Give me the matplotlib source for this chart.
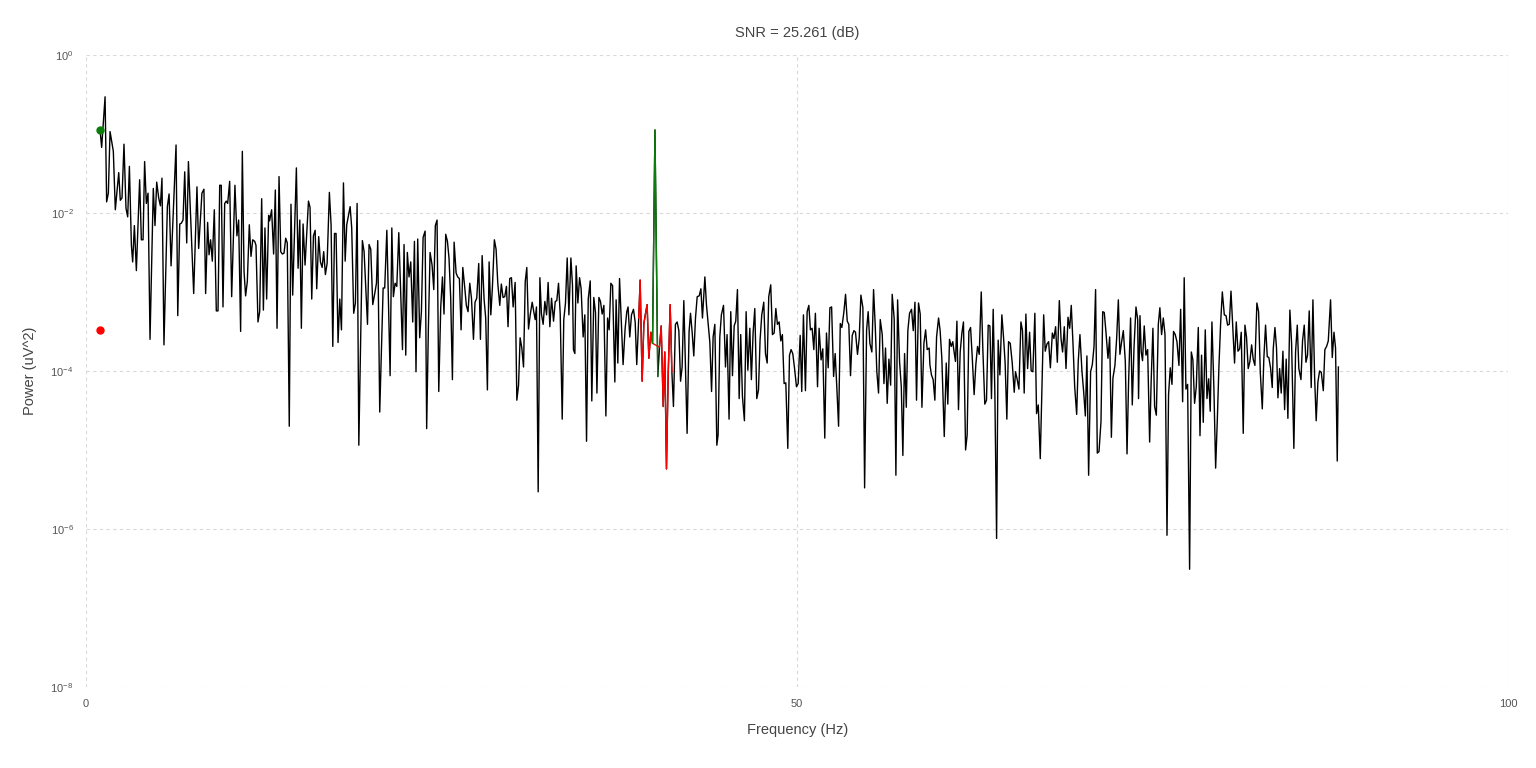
import numpy as np
import matplotlib
matplotlib.use("Agg")
import matplotlib.pyplot as plt
from matplotlib.ticker import FixedLocator

plt.rcParams['font.family'] = ['Liberation Sans', 'DejaVu Sans']
plt.rcParams['mathtext.default'] = 'regular'

# spectrum vertices (Hz, dB re 1 uV^2)
freq_hz = [
    0.98, 1.10, 1.34, 1.45, 1.57, 1.69, 1.92, 2.06, 2.30, 2.41, 2.53, 2.67, 2.81, 2.93, 3.05, 3.19, 3.28, 3.40, 3.54, 3.77, 3.89, 4.01, 4.12, 4.24, 4.36, 4.50, 4.73, 4.85, 4.97, 5.11, 5.23, 5.34, 5.48, 5.72, 5.84, 5.98, 6.33, 6.45, 6.59, 6.70, 6.82, 6.94, 7.08, 7.20, 7.57,
    7.80, 7.92, 8.15, 8.29, 8.41, 8.55, 8.65, 8.76, 8.88, 9.02, 9.16, 9.28, 9.40, 9.51, 9.63, 9.75, 9.86, 9.96, 10.10, 10.24, 10.47, 10.61, 10.73, 10.87, 10.99, 11.11, 11.22, 11.34, 11.48, 11.60, 11.72, 11.86, 11.95, 12.09, 12.21, 12.35, 12.47, 12.58, 12.70, 12.84, 12.91, 13.05, 13.19, 13.31, 13.43, 13.57, 13.69, 13.80, 13.92, 14.04, 14.15, 14.29, 14.41, 14.53, 14.79,
    14.91, 15.03, 15.14, 15.26, 15.40, 15.64, 15.75, 15.87, 15.99, 16.11, 16.22, 16.36, 16.48, 16.60, 16.71, 16.83, 16.95, 17.11, 17.23, 17.35, 17.47, 17.58, 17.72, 17.84, 17.96, 18.10, 18.22, 18.33, 18.57, 18.68, 18.82, 18.94, 19.06, 19.18, 19.43, 19.55, 19.79, 19.90, 20.02, 20.16, 20.30, 20.42, 20.51, 20.65, 20.89, 21.00, 21.15, 21.38, 21.50, 21.61, 21.73, 21.85, 21.99, 22.25, 22.36,
    22.48, 22.59, 22.71, 22.83, 22.97, 23.09, 23.20, 23.32, 23.46, 23.58, 23.70, 23.84, 23.95, 24.07, 24.19, 24.33, 24.45, 24.56, 24.68, 24.80, 24.94, 25.06, 25.17, 25.29, 25.41, 25.52, 25.64, 25.76, 25.88, 26.02, 26.13, 26.25, 26.37, 26.49, 26.63, 26.74, 26.86, 26.98, 27.10, 27.24, 27.35, 27.47, 27.61, 27.73, 27.85, 27.99, 28.10, 28.22, 28.34, 28.46, 28.57, 28.71, 28.83, 28.95, 29.09, 29.20, 29.32, 29.44, 29.56, 29.67, 29.79,
    29.91, 30.03, 30.17, 30.29, 30.41, 30.52, 30.64, 30.76, 30.88, 30.99, 31.11, 31.23, 31.37, 31.48, 31.58, 31.67, 31.79, 31.91, 32.02, 32.14, 32.26, 32.38, 32.49, 32.61, 32.73, 32.87, 32.99, 33.10, 33.22, 33.34, 33.48, 33.59, 33.71, 33.83, 33.95, 34.09, 34.20, 34.27, 34.37, 34.46, 34.58, 34.70, 34.81, 34.95, 35.07, 35.19, 35.31, 35.45, 35.56, 35.70, 35.82, 35.92, 36.06, 36.17, 36.29, 36.41, 36.55, 36.67, 36.78, 36.90, 37.02, 37.18,
    37.27, 37.39, 37.51, 37.76, 37.90, 38.02, 38.11, 38.23, 38.35, 38.49, 38.61, 38.72,
    38.86, 38.96, 39.10, 39.22, 39.33, 39.45, 39.57, 39.71, 39.83,
    40.00, 40.20,
    40.32, 40.44, 40.58, 40.69, 40.81, 40.93, 41.07, 41.19,
    41.30, 41.44, 41.56, 41.68, 41.80, 41.91, 42.03, 42.15, 42.26, 42.40, 42.50, 42.62, 42.73, 42.85, 42.97, 43.11, 43.23, 43.34, 43.51, 43.62, 43.86, 43.98, 44.09, 44.21, 44.35, 44.44,
    44.56, 44.67, 44.82, 44.96, 45.07, 45.21, 45.33, 45.45, 45.57, 45.68, 45.80, 45.92, 46.03, 46.15, 46.29, 46.41, 46.53, 46.67, 46.78, 46.90, 47.02, 47.16, 47.28, 47.39, 47.51, 47.65, 47.77, 47.89, 48.00, 48.14, 48.26, 48.38, 48.50, 48.61, 48.73, 48.85, 48.96, 49.08, 49.20, 49.34, 49.46, 49.57, 49.69, 49.81, 49.95, 50.07, 50.21, 50.32, 50.44, 50.58, 50.70, 50.82, 50.93, 51.05, 51.17, 51.28, 51.43, 51.54, 51.68, 51.80, 51.94,
    52.06, 52.18, 52.30, 52.42, 52.56, 52.67, 52.79, 52.91, 53.03, 53.14, 53.28, 53.40, 53.52, 53.63, 53.75, 53.87, 53.99, 54.10, 54.24, 54.36, 54.48, 54.62, 54.74, 54.88, 54.99, 55.11, 55.25, 55.37, 55.49, 55.60, 55.72, 55.84, 55.98, 56.10, 56.21, 56.33, 56.45, 56.57, 56.68, 56.82, 56.94, 57.06, 57.20, 57.32, 57.43, 57.55, 57.67, 57.78, 57.90, 58.04, 58.16, 58.28, 58.39, 58.53, 58.65, 58.77, 58.91, 59.03, 59.14, 59.28,
    59.33, 59.44, 59.56, 59.68, 59.80, 59.94, 60.05, 60.17, 60.34, 60.48, 60.59, 60.71, 60.83, 60.94, 61.01, 61.13, 61.23, 61.34, 61.46, 61.58, 61.69, 61.84, 61.95, 62.07, 62.19, 62.30, 62.44, 62.56, 62.68, 62.80, 62.94, 63.05, 63.19, 63.31, 63.43, 63.55, 63.66, 63.78, 63.90, 64.02, 64.13, 64.25, 64.39, 64.51, 64.62, 64.74, 64.86, 64.98, 65.12, 65.26, 65.35, 65.47, 65.59, 65.73, 65.84, 65.96, 66.08, 66.20, 66.34, 66.45, 66.57, 66.71,
    66.83, 66.95, 67.09, 67.21, 67.33, 67.44, 67.56, 67.68, 67.80, 67.94, 68.05, 68.17, 68.29, 68.43, 68.55, 68.66, 68.78, 68.90, 69.04, 69.16, 69.27, 69.39, 69.51, 69.65, 69.76, 69.88, 70.02, 70.14, 70.26, 70.37, 70.49, 70.63, 70.75, 70.87, 70.98, 71.10, 71.22, 71.36, 71.48, 71.59, 71.71, 71.85, 71.97, 72.09, 72.20, 72.34, 72.46, 72.58, 72.69, 72.81, 72.93, 73.07, 73.19, 73.30, 73.44, 73.56, 73.68, 73.82, 73.94, 74.00,
    74.10, 74.19, 74.28, 74.40, 74.52, 74.64, 74.78, 74.89, 75.01, 75.13, 75.25, 75.39, 75.50, 75.62, 75.74, 75.86, 76.00, 76.11, 76.23, 76.35, 76.46, 76.58, 76.70, 76.84, 76.96, 77.10, 77.21, 77.33, 77.45, 77.59, 77.71, 77.82, 77.94, 78.06, 78.20, 78.32, 78.43, 78.55, 78.69, 78.81, 78.93, 79.04, 79.16, 79.30, 79.42, 79.54, 79.65, 79.77, 79.89, 80.03, 80.15, 80.26, 80.38, 80.50, 80.64, 80.75, 80.87, 80.99, 81.11, 81.22, 81.36, 81.48,
    81.59, 81.71, 81.83, 81.95, 82.06, 82.18, 82.32, 82.44, 82.56, 82.70, 82.81, 82.93, 83.05, 83.16, 83.28, 83.40, 83.47, 83.59, 83.70, 83.80, 83.92, 84.03, 84.15, 84.27, 84.38, 84.50, 84.64, 84.76, 84.92, 85.04, 85.16, 85.27, 85.42, 85.53, 85.65, 85.77, 85.88, 86.00, 86.14, 86.26, 86.38, 86.49, 86.61, 86.73, 86.85, 86.99, 87.10, 87.22, 87.34, 87.50, 87.62, 87.74, 87.85, 87.97, 88.05,
]
power_db = [
    -9.4, -11.7, -5.3, -18.6, -17.5, -9.7, -12.2, -19.6, -14.9, -18.4, -18.1, -11.3, -19.4, -20.5, -14.1, -24.1, -26.2, -21.6, -27.3, -15.8, -23.4, -23.4, -13.5, -18.8, -17.5, -36.0, -16.9, -21.6, -16.1, -18.1, -19.1, -15.6, -36.7, -19.2, -17.6, -26.7, -11.4, -33.0, -21.4, -21.3, -20.9, -14.8, -23.8, -13.5, -30.2,
    -16.7, -24.5, -17.5, -17.0, -30.2, -21.2, -25.3, -23.4, -26.1, -19.6, -32.4, -32.4, -16.5, -16.5, -31.9, -18.8, -18.5, -18.8, -16.0, -30.6, -16.5, -22.9, -20.9, -35.0, -12.2, -27.4, -30.5, -28.7, -21.5, -25.5, -23.4, -23.6, -24.1, -33.8, -32.5, -18.2, -32.3, -21.9, -30.9, -20.3, -21.0, -19.6, -25.2, -17.1, -34.6, -15.4, -24.9, -25.2, -25.1, -23.2, -23.8, -47.0, -18.9, -30.4, -14.3,
    -27.0, -20.9, -34.6, -21.4, -26.6, -18.5, -19.3, -30.9, -22.9, -22.2, -29.6, -23.0, -26.2, -26.9, -24.9, -27.8, -26.4, -17.4, -21.5, -36.9, -22.6, -22.6, -36.4, -30.9, -34.8, -16.2, -26.1, -21.5, -19.2, -21.9, -32.7, -31.4, -18.8, -49.4, -23.5, -24.9, -34.1, -24.0, -24.6, -31.6, -30.2, -28.9, -23.5, -45.2, -29.5, -29.5, -22.2, -40.6, -21.9, -30.6, -28.9, -29.3, -22.5, -37.3, -24.0,
    -38.0, -25.0, -28.1, -26.2, -33.8, -23.6, -40.1, -23.3, -35.8, -32.5, -23.1, -22.3, -47.3, -34.6, -25.0, -26.6, -29.7, -21.6, -20.9, -42.6, -31.9, -28.1, -32.8, -22.7, -23.6, -25.7, -30.8, -41.1, -23.7, -27.6, -28.1, -28.3, -34.8, -26.9, -29.5, -31.7, -32.5, -28.9, -30.8, -36.0, -31.3, -30.8, -26.4, -36.0, -25.4, -31.0, -33.3, -42.4, -26.2, -32.9, -29.5, -23.4, -24.6, -28.9, -31.7, -29.0, -30.7, -30.6, -29.3, -34.4, -28.3,
    -28.2, -31.9, -28.8, -43.7, -41.8, -35.8, -37.1, -39.5, -28.7, -26.9, -34.7, -32.9, -31.3, -32.5, -33.5, -31.9, -55.3, -28.2, -32.8, -34.1, -31.2, -32.9, -28.8, -34.4, -30.8, -33.7, -31.2, -31.1, -28.9, -32.8, -46.1, -33.5, -31.4, -25.7, -32.9, -25.7, -29.1, -37.3, -37.8, -26.7, -31.4, -28.2, -29.6, -35.7, -32.9, -48.9, -30.9, -28.6, -43.8, -30.7, -32.6, -42.8, -30.7, -31.2, -32.8, -31.7, -45.7, -33.3, -34.8, -28.9, -29.2, -41.4,
    -31.0, -39.0, -28.3, -39.2, -34.7, -32.5, -31.9, -35.7, -32.9, -32.2, -33.8, -39.2,
    -33.3, -28.5, -41.3, -34.0, -32.8, -31.6, -38.4, -35.1, -36.5,
    -9.5, -40.7,
    -37.0, -34.3, -44.5, -37.6, -52.4, -40.5, -31.6, -40.1,
    -44.5, -34.1, -33.8, -34.9, -41.3, -39.5, -31.1, -39.9, -47.9, -35.0, -32.7, -35.2, -38.1, -33.3, -30.6, -30.5, -29.6, -33.3, -28.1, -31.6, -36.4, -42.6, -35.7, -34.1, -49.4, -48.1,
    -35.7, -32.9, -31.7, -39.5, -35.4, -46.1, -32.5, -40.6, -34.3, -33.7, -29.7, -43.5, -35.4, -43.2, -46.3, -32.5, -39.9, -34.6, -41.1, -35.2, -32.1, -43.5, -42.4, -36.1, -32.9, -31.3, -37.8, -39.0, -30.6, -29.1, -35.4, -35.2, -32.1, -34.1, -33.8, -36.2, -35.4, -41.6, -41.5, -49.8, -38.0, -37.3, -37.8, -39.6, -42.0, -41.6, -35.5, -42.6, -32.9, -42.5, -32.5, -31.7, -34.8, -34.6, -37.3, -32.7, -42.0, -34.6, -38.6, -37.2, -48.5,
    -35.2, -39.6, -32.0, -31.9, -40.7, -37.8, -42.2, -47.0, -34.0, -34.5, -32.6, -30.3, -33.7, -34.1, -40.6, -35.5, -34.9, -35.1, -37.9, -35.9, -30.4, -32.0, -54.8, -34.8, -32.5, -36.5, -37.6, -29.7, -34.4, -40.1, -42.8, -33.5, -35.4, -41.6, -37.1, -44.1, -38.5, -41.8, -30.3, -33.4, -53.2, -31.0, -38.9, -42.0, -50.7, -37.8, -44.6, -34.9, -32.7, -32.2, -34.9, -31.3, -43.7, -31.4, -32.8, -44.6, -36.5, -34.8, -37.3, -37.1,
    -39.2, -40.5, -41.1, -43.7, -35.7, -33.3, -34.9, -38.4, -48.3, -39.0, -44.2, -36.0, -36.9, -36.3, -37.3, -38.8, -33.7, -44.9, -37.6, -35.2, -33.8, -50.0, -48.1, -35.0, -34.5, -38.0, -43.0, -39.2, -36.9, -37.9, -30.0, -37.1, -44.2, -43.7, -34.2, -34.3, -43.5, -32.2, -43.0, -61.2, -36.1, -40.5, -32.9, -35.8, -39.0, -46.1, -36.3, -36.5, -39.0, -42.7, -40.1, -41.1, -42.3, -33.8, -34.9, -42.8, -32.8, -39.7, -35.1, -40.0, -40.1, -32.7,
    -45.4, -44.3, -51.1, -42.0, -32.9, -37.5, -36.6, -36.3, -39.6, -35.2, -35.9, -34.4, -38.9, -31.1, -35.9, -37.6, -34.4, -39.7, -33.2, -34.6, -31.7, -36.5, -42.0, -45.5, -38.8, -35.4, -40.0, -42.6, -45.7, -38.1, -53.2, -40.1, -39.2, -36.9, -29.7, -50.4, -50.2, -46.4, -32.5, -32.6, -35.1, -38.4, -35.7, -48.4, -40.9, -39.3, -35.9, -31.0, -37.9, -36.3, -34.9, -38.8, -50.5, -41.4, -33.3, -44.3, -37.1, -31.9, -33.5, -43.5,
    -33.0, -37.6, -38.7, -34.3, -38.0, -37.3, -49.0, -41.1, -34.6, -44.5, -45.6, -34.1, -32.0, -35.4, -33.3, -35.4, -60.8, -43.0, -39.6, -41.7, -35.0, -35.4, -36.3, -39.3, -32.2, -43.9, -28.2, -42.3, -41.7, -65.1, -37.6, -38.6, -44.1, -42.0, -34.5, -48.2, -38.0, -46.5, -34.8, -43.5, -41.0, -45.1, -33.8, -42.4, -52.3, -46.1, -39.5, -34.0, -30.0, -32.9, -33.0, -34.2, -34.1, -29.9, -35.0, -39.0, -33.8, -37.5, -37.2, -35.1, -47.9, -34.2,
    -35.7, -39.7, -38.8, -36.7, -38.5, -39.3, -31.4, -32.5, -40.2, -44.8, -38.4, -34.2, -38.2, -38.3, -39.6, -42.1, -37.2, -34.5, -37.1, -43.4, -39.7, -42.8, -37.5, -44.9, -38.5, -46.0, -32.3, -36.5, -49.8, -37.6, -34.2, -39.7, -41.1, -36.2, -34.2, -38.9, -38.0, -32.4, -42.1, -31.0, -40.9, -46.3, -41.4, -40.0, -40.2, -42.5, -37.3, -36.9, -36.2, -31.0, -38.3, -35.1, -37.1, -51.4, -39.5,
]

# signal / noise summary
signal_freq = 40.0
noise_band = (38.8, 41.25)
signal_power = 0.112
noise_power = 3.34e-4
snr_db = 25.261
marker_freq = 1.0

f = np.array(freq_hz)
p = 10 ** (np.array(power_db) / 10)

green = (f >= 39.8) & (f <= 40.25)
red = (f >= noise_band[0]) & (f <= noise_band[1]) & ~((f > 39.9) & (f < 40.25))

fig = plt.figure(figsize=(15.36, 7.68), dpi=100)
ax = fig.add_axes([0.056, 0.1055, 0.926, 0.823])

ax.plot(f, p, color='black', lw=1.0, zorder=3)
ax.plot(f[red], p[red], color='#ff0000', lw=1.0, zorder=4)
ax.plot(f[green], p[green], color='#0a7d0a', lw=1.0, zorder=5)
ax.plot([marker_freq], [signal_power], 'o', color='#0a7d0a', ms=5, zorder=6)
ax.plot([marker_freq], [noise_power], 'o', color='#ff0000', ms=5, zorder=6)

ax.set_yscale('log')
ax.set_xlim(0, 100)
ax.set_ylim(1e-8, 1)
ax.xaxis.set_major_locator(FixedLocator([0, 50, 100]))
ax.yaxis.set_major_locator(FixedLocator([1e-8, 1e-6, 1e-4, 1e-2, 1]))
ax.yaxis.set_minor_locator(FixedLocator([]))

ax.grid(True, color='#d9d9d9', lw=0.8, linestyle=(0, (3, 3)))
for s in ax.spines.values():
    s.set_visible(False)
ax.tick_params(length=0, labelsize=8, colors='#555555', pad=9)

ax.set_title(f"SNR = {snr_db:.3f} (dB)", fontsize=10.5, color='#444444', pad=13)
ax.set_xlabel('Frequency (Hz)', fontsize=10.5, color='#444444', labelpad=10)
ax.set_ylabel('Power (uV^2)', fontsize=10.5, color='#444444', labelpad=10)

fig.savefig('out.png', dpi=100, facecolor='white')
